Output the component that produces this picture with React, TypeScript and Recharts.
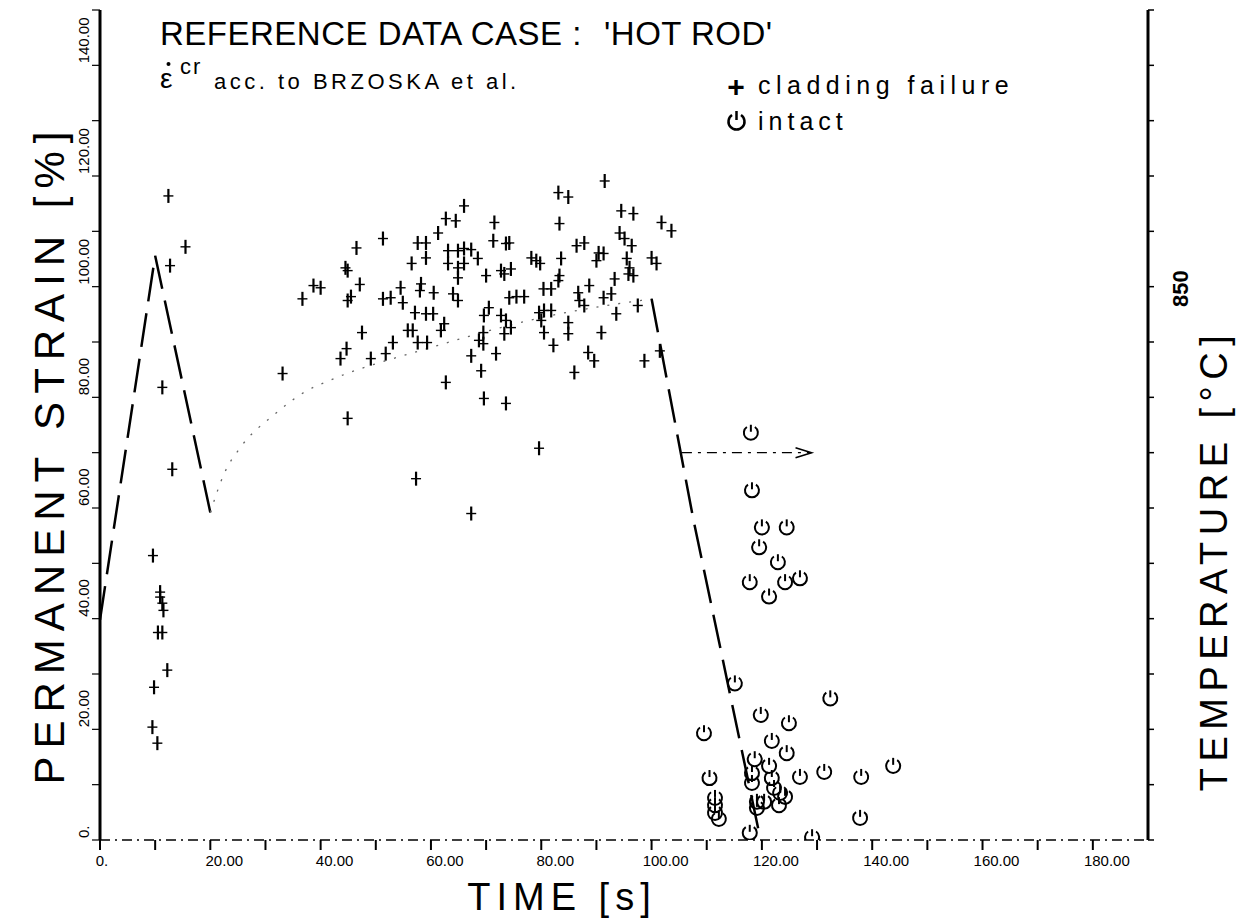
import React from "react";
import { ComposedChart, Line, Scatter, XAxis, YAxis, ReferenceLine } from "recharts";

// time [s], permanent strain [%]
const failurePoints: [number, number][] = [
  [12.4, 116.4], [15.5, 107.2], [12.7, 103.8], [11.3, 81.8], [13.1, 67.0],
  [9.6, 51.4], [10.9, 44.8], [10.9, 43.9], [11.3, 42.8], [11.5, 41.5], [10.5, 37.5], [11.3, 37.5],
  [12.2, 30.7], [9.8, 27.6], [9.5, 20.4], [10.4, 17.5],
  [33.1, 84.3], [36.7, 97.8], [38.7, 100.2], [40.0, 99.8], [43.6, 87.0], [44.7, 88.8], [44.9, 102.9],
  [44.9, 97.5], [45.5, 98.2], [46.5, 107.0], [47.1, 100.4], [47.5, 91.7], [49.1, 87.0], [44.9, 76.2],
  [51.3, 108.7], [51.3, 97.8], [52.7, 98.0], [54.5, 99.8], [54.9, 97.1], [51.8, 87.9], [53.1, 89.9],
  [55.8, 92.1], [56.7, 92.1], [56.5, 104.2], [57.6, 107.9], [59.1, 107.9], [59.1, 105.2], [58.0, 99.3],
  [60.5, 98.9], [57.1, 95.3], [59.1, 95.1], [60.4, 95.1], [57.6, 89.9], [59.3, 89.9], [57.3, 65.3],
  [61.3, 109.7], [91.5, 119.1], [83.1, 117.0], [84.9, 116.2], [66.0, 114.6], [62.7, 112.3],
  [64.5, 111.9], [71.5, 111.6], [83.3, 111.4], [94.5, 113.7], [96.7, 113.2], [101.8, 111.6],
  [103.6, 110.1], [71.3, 108.3], [73.6, 107.8], [74.2, 107.9], [63.1, 106.5], [64.9, 106.5],
  [66.0, 106.9], [67.3, 106.7], [86.4, 107.4], [87.8, 107.9], [94.2, 109.7], [95.1, 108.7],
  [96.4, 107.4], [90.4, 106.1], [91.3, 106.0], [63.1, 104.2], [64.9, 103.4], [66.0, 104.2],
  [68.5, 105.1], [78.2, 105.2], [79.1, 104.7], [79.8, 104.2], [83.6, 105.1], [90.0, 104.7],
  [95.5, 105.1], [96.0, 103.4], [100.0, 105.2], [100.9, 104.2], [44.5, 103.4], [70.0, 102.0],
  [72.7, 102.9], [73.3, 102.3], [74.5, 103.2], [64.9, 101.6], [83.3, 102.0], [83.1, 101.1],
  [96.7, 102.0], [95.8, 102.3], [93.3, 101.4], [58.2, 100.5], [64.0, 98.7], [64.9, 97.5],
  [74.2, 98.0], [75.5, 98.2], [76.9, 98.2], [80.4, 99.6], [81.8, 99.6], [86.7, 98.9], [88.7, 100.2],
  [91.3, 98.0], [92.7, 98.7], [97.5, 96.6], [70.5, 96.2], [69.6, 94.8], [72.7, 94.8], [73.6, 93.9],
  [74.5, 92.6], [73.3, 91.5], [79.6, 95.3], [80.5, 95.7], [81.8, 95.7], [80.0, 93.9], [87.8, 96.6],
  [86.9, 97.5], [93.6, 95.1], [62.4, 93.3], [61.8, 92.1], [69.5, 91.7], [68.7, 90.3], [69.5, 89.7],
  [84.9, 93.5], [84.9, 91.5], [80.5, 91.7], [90.9, 91.7], [67.3, 87.5], [71.8, 87.9], [82.2, 89.4],
  [88.5, 88.1], [89.6, 86.6], [98.7, 86.6], [101.5, 88.4], [69.1, 84.8], [86.0, 84.5], [62.7, 82.7],
  [69.6, 79.8], [73.6, 78.9], [79.6, 70.8], [67.3, 59.0],
];

const intactPoints: [number, number][] = [
  [118.0, 73.6], [118.2, 63.2], [120.0, 56.5], [124.5, 56.5], [119.5, 52.9], [122.9, 50.2],
  [117.8, 46.6], [124.2, 46.6], [126.9, 47.3], [121.3, 44.0], [115.1, 28.3], [132.4, 25.6],
  [119.8, 22.6], [124.9, 21.1], [109.5, 19.3], [121.8, 17.9], [124.5, 15.7], [118.7, 14.6],
  [121.3, 13.4], [143.8, 13.4], [131.3, 12.3], [126.9, 11.4], [138.0, 11.4], [110.5, 11.2],
  [118.2, 12.1], [118.2, 10.3], [121.8, 11.2], [122.2, 9.4], [123.3, 8.5], [124.2, 7.8],
  [111.5, 7.6], [111.5, 6.3], [111.5, 4.9], [112.2, 3.8], [119.1, 6.9], [120.4, 6.9], [119.1, 5.8],
  [123.1, 6.3], [137.8, 4.0], [117.8, 1.3], [129.1, 0.5],
];

// time [s], temperature [°C]
const tempHeatup: [number, number][] = [[0, 549], [10, 878], [20, 646]];
const tempRise: [number, number][] = [
  [20, 646], [22.5, 681], [25.5, 705], [31.5, 734], [37.5, 756], [41.5, 765], [60, 795], [80, 822], [100, 839],
];
const tempQuench: [number, number][] = [[100, 839], [107.6, 639], [119.6, 354]];
const arrowTemp = 700;
const arrowFrom = 105.5;
const arrowTo = 129;

const timeTicks = [0, 10, 20, 30, 40, 50, 60, 70, 80, 90, 100, 110, 120, 130, 140, 150, 160, 170, 180];
const strainTicks = [0, 10, 20, 30, 40, 50, 60, 70, 80, 90, 100, 110, 120, 130, 140, 150];
const tempTicks = [350, 400, 450, 500, 550, 600, 650, 700, 750, 800, 850, 900, 950, 1000, 1050, 1100];

const failureData = failurePoints.map(([t, s]) => ({ t, s }));
const intactData = intactPoints.map(([t, s]) => ({ t, s }));
const toTemp = (arr: [number, number][]) => arr.map(([t, temp]) => ({ t, temp }));

const FONT = "'Liberation Sans', Arial, sans-serif";
const fmt = (v: number) => (v === 0 ? "0." : v.toFixed(2));

function CrossMark(props: any) {
  const { cx, cy } = props;
  if (cx == null || cy == null) return <g />;
  return (
    <g stroke="#000">
      <line x1={cx} y1={cy - 7} x2={cx} y2={cy + 7} strokeWidth={2.2} />
      <line x1={cx - 5} y1={cy} x2={cx + 5} y2={cy} strokeWidth={1.4} />
    </g>
  );
}

function IntactMark(props: any) {
  const { cx, cy } = props;
  if (cx == null || cy == null) return <g />;
  const r = 7;
  return (
    <g stroke="#000" fill="none" strokeWidth={2}>
      <path d={`M ${cx + 4} ${cy - 5.7} A ${r} ${r} 0 1 1 ${cx - 4} ${cy - 5.7}`} />
      <line x1={cx} y1={cy - 8} x2={cx} y2={cy - 1} />
    </g>
  );
}

function LeftTick(props: any) {
  const { x, y, payload } = props;
  const v = payload.value;
  if (v % 20 !== 0 || v > 140) return <g />;
  return (
    <text transform={`translate(${x - 1},${y - 2}) rotate(-90)`} textAnchor="start" fontSize={15} fontFamily={FONT} fill="#000">
      {fmt(v)}
    </text>
  );
}

function BottomTick(props: any) {
  const { x, y, payload } = props;
  const v = payload.value;
  if (v % 20 !== 0) return <g />;
  return (
    <text x={x + (v === 0 ? 2 : 14)} y={y + 14} textAnchor="middle" fontSize={15} fontFamily={FONT} fill="#000">
      {fmt(v)}
    </text>
  );
}

function RightTick(props: any) {
  const { x, y, payload } = props;
  if (payload.value !== 850) return <g />;
  return (
    <text transform={`translate(${x + 32},${y + 2}) rotate(-90)`} textAnchor="middle" fontSize={22} fontWeight="bold" fontFamily={FONT} fill="#000">
      850
    </text>
  );
}

function Arrow(props: any) {
  const { x1, y1, x2, y2 } = props;
  return (
    <g stroke="#000" fill="none">
      <line x1={x1} y1={y1} x2={x2} y2={y2} strokeWidth={1.4} strokeDasharray="10 6 3 6" />
      <path d={`M ${x2 - 16} ${y2 - 5} L ${x2} ${y2} L ${x2 - 16} ${y2 + 5}`} strokeWidth={1.6} />
    </g>
  );
}

export default function App() {
  return (
    <div style={{ position: "absolute", left: 0, top: 0, width: 1240, height: 920, background: "#fff" }}>
      <ComposedChart width={1240} height={920} margin={{ top: 10, right: 62, bottom: 50, left: 70 }}>
        <XAxis
          dataKey="t"
          type="number"
          domain={[0, 190]}
          ticks={timeTicks}
          allowDataOverflow
          height={30}
          axisLine={{ stroke: "#000", strokeWidth: 1.5, strokeDasharray: "10 5 2 5" }}
          tickLine={{ stroke: "#000", strokeWidth: 2 }}
          tickSize={10}
          tick={<BottomTick />}
        />
        <YAxis
          yAxisId="strain"
          dataKey="s"
          type="number"
          domain={[0, 150]}
          ticks={strainTicks}
          allowDataOverflow
          width={30}
          axisLine={{ stroke: "#000", strokeWidth: 3 }}
          tickLine={{ stroke: "#000", strokeWidth: 1.2 }}
          tickSize={8}
          tick={<LeftTick />}
        />
        <YAxis
          yAxisId="temp"
          orientation="right"
          type="number"
          domain={[350, 1100]}
          ticks={tempTicks}
          allowDataOverflow
          width={30}
          axisLine={{ stroke: "#000", strokeWidth: 3 }}
          tickLine={{ stroke: "#000", strokeWidth: 1.5 }}
          tickSize={6}
          tick={<RightTick />}
        />
        <Line
          yAxisId="temp"
          data={toTemp(tempHeatup)}
          dataKey="temp"
          type="linear"
          stroke="#000"
          strokeWidth={2.5}
          strokeDasharray="34 12"
          dot={false}
          isAnimationActive={false}
        />
        <Line
          yAxisId="temp"
          data={toTemp(tempRise)}
          dataKey="temp"
          type="monotone"
          stroke="#666"
          strokeWidth={1.3}
          strokeDasharray="2 9"
          dot={false}
          isAnimationActive={false}
        />
        <Line
          yAxisId="temp"
          data={toTemp(tempQuench)}
          dataKey="temp"
          type="linear"
          stroke="#000"
          strokeWidth={2.5}
          strokeDasharray="34 12"
          dot={false}
          isAnimationActive={false}
        />
        <ReferenceLine
          yAxisId="temp"
          segment={[{ x: arrowFrom, y: arrowTemp }, { x: arrowTo, y: arrowTemp }]}
          shape={<Arrow />}
        />
        <Scatter yAxisId="strain" data={failureData} shape={<CrossMark />} isAnimationActive={false} />
        <Scatter yAxisId="strain" data={intactData} shape={<IntactMark />} isAnimationActive={false} />
      </ComposedChart>
      <svg width={1240} height={920} style={{ position: "absolute", left: 0, top: 0, pointerEvents: "none" }} fontFamily={FONT}>
        <text x={160} y={45} fontSize={33} letterSpacing={0.5}>REFERENCE DATA CASE :</text>
        <text x={604} y={45} fontSize={33} letterSpacing={0.5}>'HOT ROD'</text>
        <text x={160} y={88} fontSize={28}>ε</text>
        <circle cx={168.5} cy={64} r={2} fill="#000" />
        <text x={180} y={74} fontSize={22} letterSpacing={2}>cr</text>
        <text x={214} y={89} fontSize={22} letterSpacing={3.5}>acc. to BRZOSKA et al.</text>
        <text x={736} y={97} fontSize={30} fontWeight="bold" textAnchor="middle">+</text>
        <text x={758} y={94} fontSize={25} letterSpacing={5.5}>cladding failure</text>
        <g stroke="#000" fill="none" strokeWidth={2.5}>
          <path d="M 741 115 A 8 8 0 1 1 732 115" />
          <line x1={736.5} y1={111} x2={736.5} y2={120} />
        </g>
        <text x={758} y={130} fontSize={25} letterSpacing={5}>intact</text>
        <text transform="translate(64,454) rotate(-90)" textAnchor="middle" fontSize={42} letterSpacing={8}>
          PERMANENT  STRAIN  [%]
        </text>
        <text transform="translate(1227,560) rotate(-90)" textAnchor="middle" fontSize={38} letterSpacing={6.5}>
          TEMPERATURE [°C]
        </text>
        <text x={562} y={910} textAnchor="middle" fontSize={38} letterSpacing={6}>TIME [s]</text>
      </svg>
    </div>
  );
}
